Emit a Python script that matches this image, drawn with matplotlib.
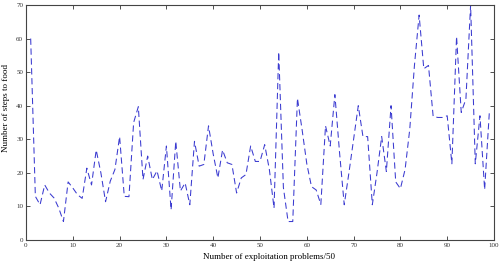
import numpy as np
import matplotlib
matplotlib.use("Agg")
import matplotlib.pyplot as plt

# steps-to-food values, one per 50 exploitation problems
problems = np.arange(1, 100)
steps = [60, 13, 10.5, 16.4, 14, 12.5, 9.5, 5.5, 17.3, 15.5,
         13.5, 12.4, 21.4, 16.4, 26.8, 20, 11.4, 17.5, 21, 30.8,
         13, 12.9, 35, 39.7, 18, 25, 18, 20.6, 14.6, 28,
         9, 29.4, 14.6, 17, 10.5, 29.4, 22, 22.5, 34, 25.6,
         18.5, 26.8, 23, 22.5, 14, 18.5, 19.5, 28, 23.4, 23.4,
         28.4, 21, 9.5, 56, 15.6, 5.5, 5.5, 42.2, 32.8, 22.7,
         15.9, 14.9, 10.6, 34, 28, 43.3, 26, 10.5, 20, 30,
         40, 30.8, 30.8, 10.5, 20, 30.8, 20.4, 40, 17.3, 15.3,
         21, 33, 52, 67, 51, 52, 36.8, 36.5, 36.5, 37,
         22.7, 60.6, 38, 42, 70, 22.7, 37, 15, 38]

xticks = np.arange(0, 101, 10)
yticks = np.arange(0, 71, 10)

plt.rcParams['font.family'] = ['Liberation Serif', 'DejaVu Serif']

fig = plt.figure(figsize=(5.01, 2.61), dpi=100)
ax = fig.add_axes([26 / 501, 1 - 240 / 261, 468 / 501, 235 / 261])

ax.plot(problems, steps, color='#3a3ad0', linewidth=0.75, dashes=(6, 3.5))

ax.set_xlim(0, 100)
ax.set_ylim(0, 70)
ax.set_xticks(xticks)
ax.set_yticks(yticks)
ax.tick_params(direction='in', length=3, width=0.6, labelsize=5,
               top=True, right=True, pad=2, colors='#333333')
for sp in ax.spines.values():
    sp.set_linewidth(0.8)
    sp.set_color('#444444')

ax.set_xlabel('Number of exploitation problems/50', fontsize=6.5)
ax.set_ylabel('Number of steps to food', fontsize=6.5)
ax.xaxis.set_label_coords(0.52, -0.055)
ax.yaxis.set_label_coords(-0.035, 0.56)

fig.savefig('out.png', dpi=100)
